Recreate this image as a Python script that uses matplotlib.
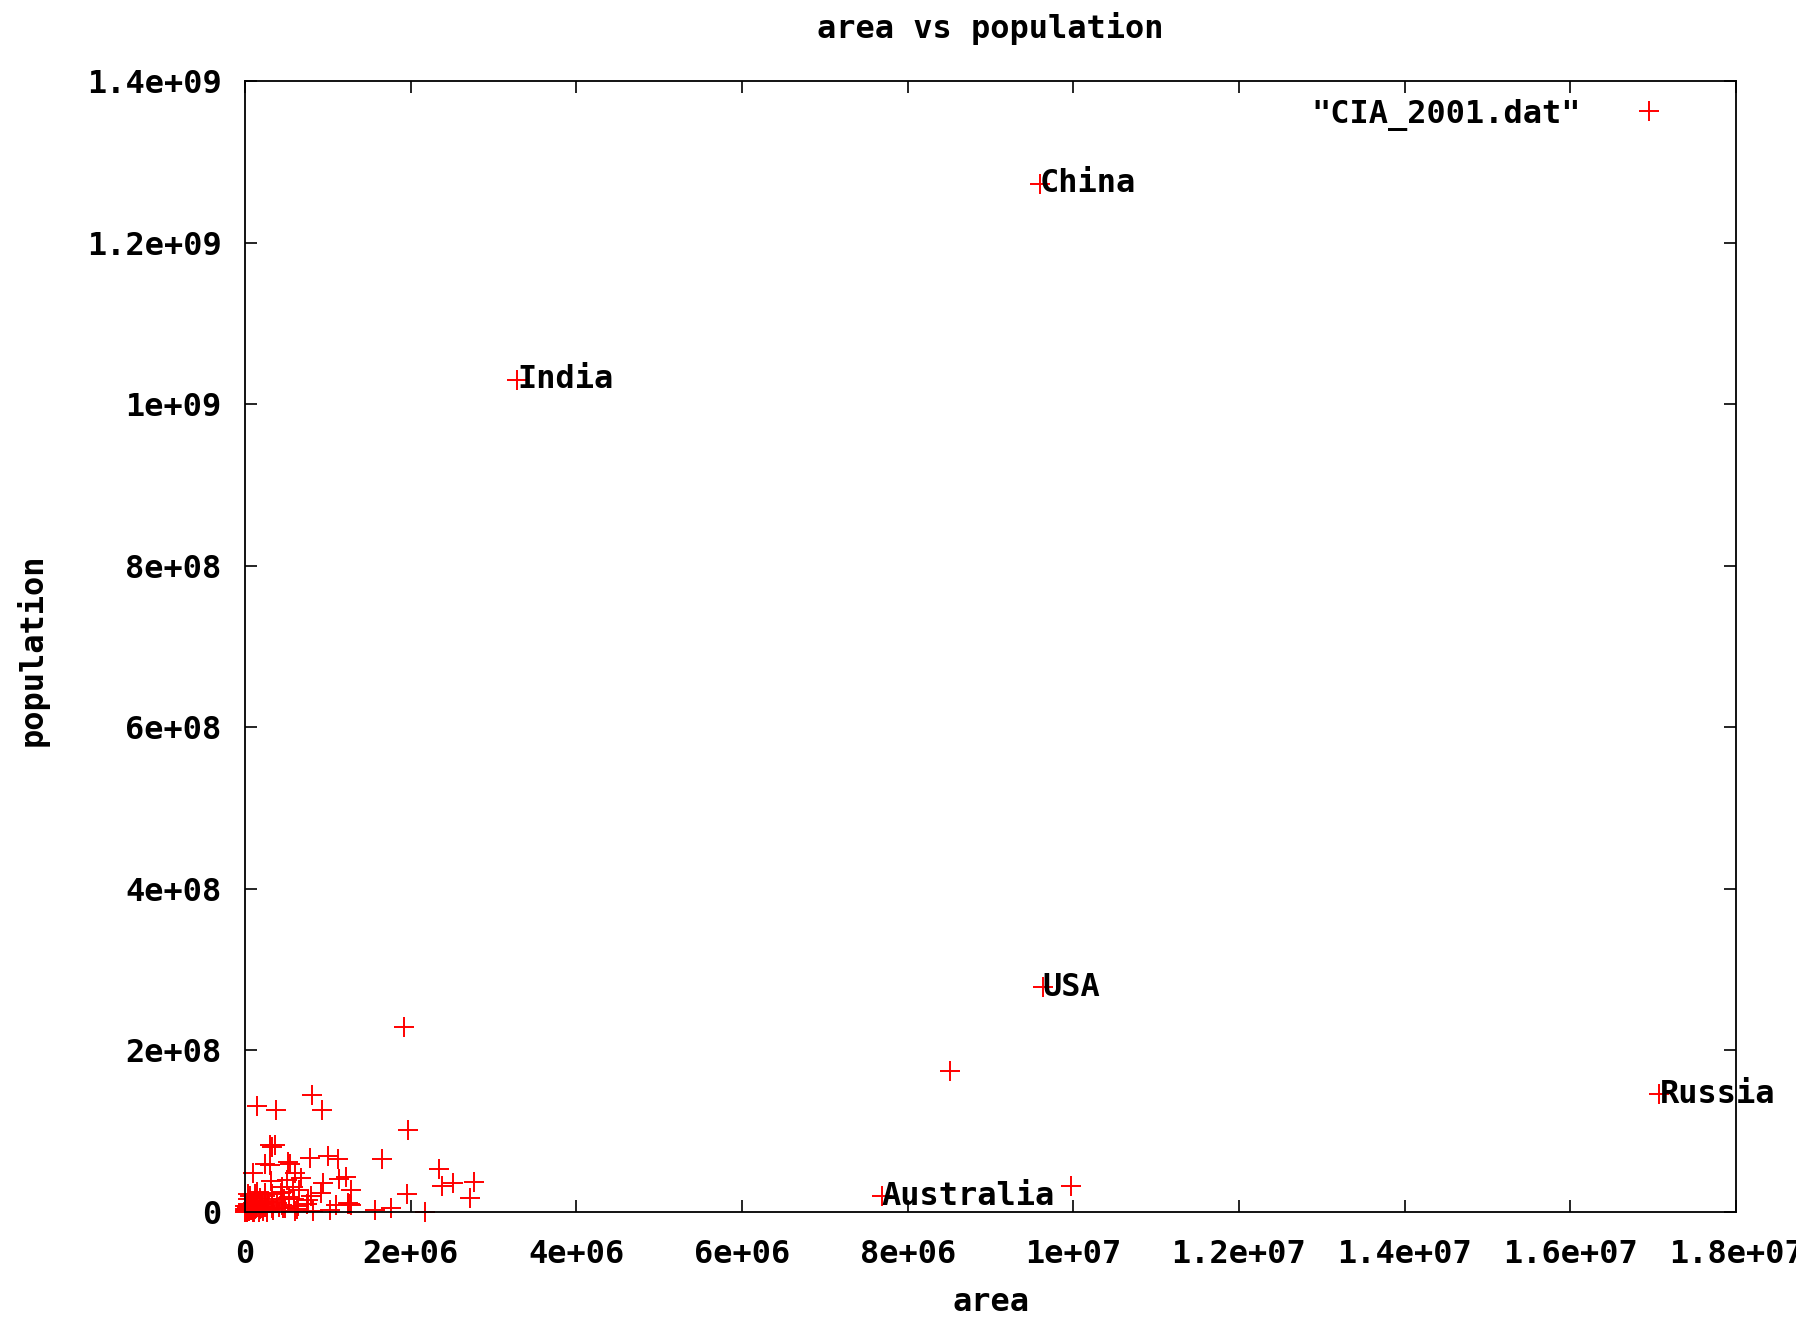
import matplotlib
matplotlib.use("Agg")
import matplotlib.pyplot as plt
from matplotlib.ticker import FuncFormatter, MultipleLocator

# ---- data (CIA World Factbook 2001: area in sq km, population) ----
countries = [
    "Afghanistan", "Albania", "Algeria", "American Samoa", "Andorra", "Angola",
    "Antigua", "Argentina", "Armenia", "Aruba", "Australia", "Austria",
    "Azerbaijan", "Bahamas", "Bahrain", "Bangladesh", "Barbados", "Belarus",
    "Belgium", "Belize", "Benin", "Bhutan", "Bolivia", "Bosnia", "Botswana",
    "Brazil", "Brunei", "Bulgaria", "Burkina Faso", "Burma", "Burundi",
    "Cambodia", "Cameroon", "Canada", "Cape Verde", "CAR", "Chad", "Chile",
    "China", "Colombia", "Comoros", "Congo DR", "Congo Rep", "Costa Rica",
    "Cote d'Ivoire", "Croatia", "Cuba", "Cyprus", "Czech Republic", "Denmark",
    "Djibouti", "Dominica", "Dominican Republic", "Ecuador", "Egypt",
    "El Salvador", "Equatorial Guinea", "Eritrea", "Estonia", "Ethiopia",
    "Fiji", "Finland", "France", "French Guiana", "French Polynesia", "Gabon",
    "Gambia", "Georgia", "Germany", "Ghana", "Greece", "Greenland", "Grenada",
    "Guadeloupe", "Guam", "Guatemala", "Guinea", "Guinea-Bissau", "Guyana",
    "Haiti", "Honduras", "Hong Kong", "Hungary", "Iceland", "India",
    "Indonesia", "Iran", "Iraq", "Ireland", "Israel", "Italy", "Jamaica",
    "Japan", "Jordan", "Kazakhstan", "Kenya", "Kiribati", "North Korea",
    "South Korea", "Kuwait", "Kyrgyzstan", "Laos", "Latvia", "Lebanon",
    "Lesotho", "Liberia", "Libya", "Liechtenstein", "Lithuania", "Luxembourg",
    "Macedonia", "Madagascar", "Malawi", "Malaysia", "Maldives", "Mali",
    "Malta", "Mauritania", "Mauritius", "Mexico", "Moldova", "Mongolia",
    "Morocco", "Mozambique", "Namibia", "Nepal", "Netherlands",
    "New Caledonia", "New Zealand", "Nicaragua", "Niger", "Nigeria", "Norway",
    "Oman", "Pakistan", "Panama", "Papua New Guinea", "Paraguay", "Peru",
    "Philippines", "Poland", "Portugal", "Puerto Rico", "Qatar", "Reunion",
    "Romania", "Russia", "Rwanda", "Saudi Arabia", "Senegal", "Serbia",
    "Sierra Leone", "Singapore", "Slovakia", "Slovenia", "Solomon Islands",
    "Somalia", "South Africa", "Spain", "Sri Lanka", "Sudan", "Suriname",
    "Swaziland", "Sweden", "Switzerland", "Syria", "Taiwan", "Tajikistan",
    "Tanzania", "Thailand", "Togo", "Trinidad", "Tunisia", "Turkey",
    "Turkmenistan", "Uganda", "Ukraine", "UAE", "United Kingdom", "USA",
    "Uruguay", "Uzbekistan", "Vanuatu", "Venezuela", "Vietnam",
    "Western Sahara", "Yemen", "Zambia", "Zimbabwe", "Samoa", "Tonga",
    "Seychelles", "Sao Tome", "Monaco", "San Marino", "Micronesia",
    "Marshall Islands", "Palau", "Saint Lucia",
]

area = [
    647500, 28748, 2381740, 199, 468, 1246700,
    442, 2766890, 29800, 193, 7686850, 83858,
    86600, 13940, 620, 144000, 430, 207600,
    30510, 22966, 112620, 47000, 1098580, 51129, 600370,
    8511965, 5770, 110910, 274200, 678500, 27830,
    181040, 475440, 9976140, 4033, 622984, 1284000, 756950,
    9596960, 1138910, 2170, 2345410, 342000, 51100,
    322460, 56542, 110860, 9250, 78866, 43094,
    23000, 754, 48730, 283560, 1001450,
    21040, 28051, 121320, 45226, 1127127,
    18270, 337030, 547030, 91000, 4167, 267667,
    11300, 69700, 357021, 238540, 131940, 2175600, 340,
    1780, 549, 108890, 245857, 36120, 214970,
    27750, 112090, 1092, 93030, 103000, 3287590,
    1919440, 1648000, 437072, 70280, 20770, 301230, 10990,
    377835, 92300, 2717300, 582650, 717, 120540,
    98480, 17820, 198500, 236800, 64589, 10400,
    30355, 111370, 1759540, 160, 65200, 2586,
    25333, 587040, 118480, 329750, 300, 1240000,
    316, 1030700, 2040, 1972550, 33843, 1565000,
    446550, 801590, 825418, 140800, 41532,
    19060, 268680, 129494, 1267000, 923768, 324220,
    212460, 803940, 78200, 462840, 406750, 1285220,
    300000, 312685, 92391, 9104, 11437, 2517,
    237500, 17075200, 26338, 1960582, 196190, 102350,
    71740, 692, 48845, 20253, 28450,
    637657, 1219912, 504782, 65610, 2505810, 163270,
    17363, 449964, 41290, 185180, 35980, 143100,
    945087, 514000, 56785, 5128, 163610, 780580,
    488100, 236040, 603700, 82880, 244820, 9629091,
    176220, 447400, 12200, 912050, 329560,
    266000, 527970, 752614, 390580, 2860, 748,
    455, 1001, 2, 61, 702,
    181, 458, 620,
]

population = [
    26813057, 3510484, 31736053, 67084, 67627, 10366031,
    66970, 37384816, 3336100, 70007, 19357594, 8150835,
    7771092, 297852, 645361, 131269860, 275330, 10350194,
    10258762, 256062, 6590782, 2049412, 8300463, 3922205, 1586119,
    174468575, 343653, 7707495, 12272289, 41994678, 6223897,
    12491501, 15803220, 31592805, 405163, 3576884, 8707078, 15328467,
    1273111290, 40349388, 596202, 53624718, 2894336, 3773057,
    16393221, 4334142, 11184023, 762887, 10264212, 5352815,
    460700, 70786, 8581477, 13183978, 69536644,
    6237662, 486060, 4298269, 1423316, 65891874,
    844330, 5175783, 59551227, 177562, 253506, 1221175,
    1411205, 4989285, 83029536, 19894014, 10623835, 56352, 89227,
    431170, 157557, 12974361, 7613870, 1315822, 697181,
    6964549, 6406052, 7210505, 10106017, 277906, 1029991145,
    228437870, 66128965, 23331985, 3840838, 5938093, 57679825, 2665636,
    126771662, 5153378, 16731303, 30765916, 94149, 21968228,
    47904370, 2041961, 4753003, 5635967, 2385231, 3627774,
    2177062, 3225837, 5240599, 32528, 3610535, 442972,
    2046209, 15982563, 10548250, 22229040, 310764, 11008518,
    394583, 2747312, 1189825, 101879171, 4431570, 2654999,
    30645305, 19371057, 1797677, 25284463, 15981472,
    204863, 3864129, 4918393, 10355156, 126635626, 4503440,
    2622198, 144616639, 2845647, 5049055, 5734139, 27483864,
    82841518, 38633912, 10066253, 3937316, 769152, 732570,
    22364022, 145470197, 7312756, 22757092, 10284929, 10677290,
    5426618, 4300419, 5414937, 1930132, 480442,
    7488773, 43586097, 40037995, 19408635, 36080373, 433998,
    1104343, 8875053, 7283274, 16728808, 22370461, 6578681,
    36232074, 61797751, 5153088, 1169682, 9705102, 66493970,
    4603244, 23985712, 48760474, 2407460, 59647790, 278058881,
    3360105, 25155064, 192910, 23916810, 79939014,
    250559, 18078035, 9770199, 11365366, 179466, 104227,
    79326, 165034, 31842, 27336, 134597,
    70822, 19092, 158178,
]

labelled = ["China", "India", "USA", "Russia", "Australia"]
series_name = '"CIA_2001.dat"'
title = "area vs population"
x_label = "area"
y_label = "population"

# ---- figure ----
FONT = "DejaVu Sans Mono"
FS = 23
plt.rcParams["font.family"] = FONT
plt.rcParams["font.weight"] = "bold"

fig = plt.figure(figsize=(17.96, 13.18), dpi=100)
ax = fig.add_axes([245 / 1796, 1 - 1212 / 1318, (1736 - 245) / 1796, (1212 - 81) / 1318])

ax.plot(area, population, linestyle="none", marker="+", color="#ff0000",
        markersize=14, markeredgewidth=1.4, clip_on=False, label=series_name)

for name in labelled:
    i = countries.index(name)
    ax.text(area[i], population[i], name, ha="left", va="center",
            fontsize=FS, fontweight="bold", color="black", zorder=5)

ax.set_xlim(0, 1.8e7)
ax.set_ylim(0, 1.4e9)
ax.xaxis.set_major_locator(MultipleLocator(2e6))
ax.yaxis.set_major_locator(MultipleLocator(2e8))
fmt = FuncFormatter(lambda v, p: "%g" % v)
ax.xaxis.set_major_formatter(fmt)
ax.yaxis.set_major_formatter(fmt)

ax.tick_params(axis="both", direction="in", length=8.5, width=1.2,
               top=True, right=True, labelsize=FS, colors="black")
ax.tick_params(axis="x", pad=19.5)
ax.tick_params(axis="y", pad=17)
for lab in ax.get_xticklabels() + ax.get_yticklabels():
    lab.set_fontweight("bold")
for sp in ax.spines.values():
    sp.set_linewidth(1.3)
    sp.set_color("black")

ax.set_title(title, fontsize=FS, fontweight="bold", pad=31)
ax.set_xlabel(x_label, fontsize=FS, fontweight="bold")
ax.set_ylabel(y_label, fontsize=FS, fontweight="bold")
ax.xaxis.set_label_coords(0.5, -0.0665)
ax.yaxis.set_label_coords(-0.132, 0.497)

leg = ax.legend(loc="upper right", bbox_to_anchor=(0.9631, 0.9845),
                borderaxespad=0, borderpad=0, frameon=False, markerfirst=False,
                handlelength=2.0, handletextpad=1.13,
                prop={"family": FONT, "weight": "bold", "size": FS})

fig.savefig("out.png", dpi=100)
